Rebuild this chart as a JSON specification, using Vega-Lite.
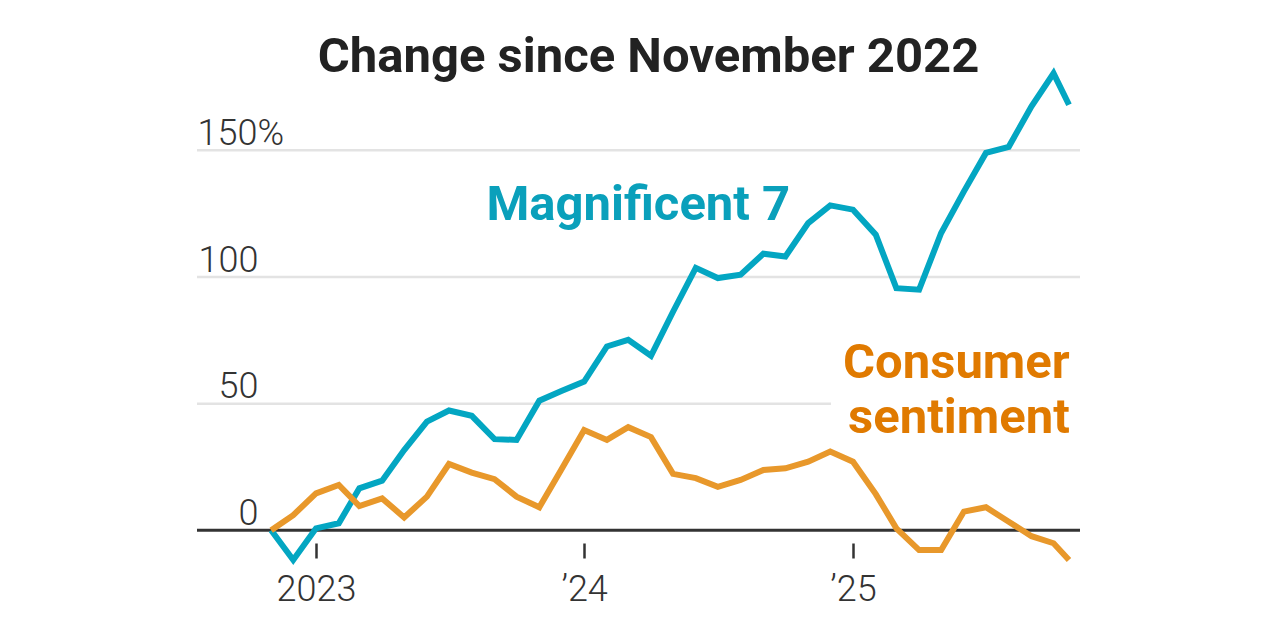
{
  "$schema": "https://vega.github.io/schema/vega-lite/v6.json",
  "width": 883,
  "height": 481.3,
  "autosize": {"type": "none"},
  "padding": {"left": 197, "top": 61.7, "right": 200, "bottom": 97},
  "background": "white",
  "config": {"view": {"stroke": null}, "font": "Roboto"},
  "title": {
    "text": "Change since November 2022",
    "anchor": "middle",
    "frame": "group",
    "font": "Roboto",
    "fontSize": 49,
    "fontWeight": "bold",
    "color": "#222222",
    "baseline": "alphabetic",
    "offset": 0,
    "dy": 60,
    "dx": 10
  },
  "datasets": {
    "grid": [
      {"gv": 50, "gs": "2022-07-23T00:00", "ge": "2024-12-02T00:00"},
      {"gv": 100, "gs": "2022-07-23T00:00", "ge": "2025-11-06T00:00"},
      {"gv": 150, "gs": "2022-07-23T00:00", "ge": "2025-11-06T00:00"}
    ],
    "series": [
      {"date": "2022-11-01T00:00", "series": "Magnificent 7", "value": 0},
      {"date": "2022-12-01T00:00", "series": "Magnificent 7", "value": -11.7},
      {"date": "2023-01-01T00:00", "series": "Magnificent 7", "value": 0.8},
      {"date": "2023-02-01T00:00", "series": "Magnificent 7", "value": 2.8},
      {"date": "2023-03-01T00:00", "series": "Magnificent 7", "value": 16.6},
      {"date": "2023-04-01T00:00", "series": "Magnificent 7", "value": 19.6},
      {"date": "2023-05-01T00:00", "series": "Magnificent 7", "value": 31.7},
      {"date": "2023-06-01T00:00", "series": "Magnificent 7", "value": 42.9},
      {"date": "2023-07-01T00:00", "series": "Magnificent 7", "value": 47.3},
      {"date": "2023-08-01T00:00", "series": "Magnificent 7", "value": 45.2},
      {"date": "2023-09-01T00:00", "series": "Magnificent 7", "value": 36.0},
      {"date": "2023-10-01T00:00", "series": "Magnificent 7", "value": 35.7},
      {"date": "2023-11-01T00:00", "series": "Magnificent 7", "value": 51.2},
      {"date": "2023-12-01T00:00", "series": "Magnificent 7", "value": 55.0},
      {"date": "2024-01-01T00:00", "series": "Magnificent 7", "value": 58.7},
      {"date": "2024-02-01T00:00", "series": "Magnificent 7", "value": 72.6},
      {"date": "2024-03-01T00:00", "series": "Magnificent 7", "value": 75.2},
      {"date": "2024-04-01T00:00", "series": "Magnificent 7", "value": 68.9},
      {"date": "2024-05-01T00:00", "series": "Magnificent 7", "value": 86.3},
      {"date": "2024-06-01T00:00", "series": "Magnificent 7", "value": 103.6},
      {"date": "2024-07-01T00:00", "series": "Magnificent 7", "value": 99.6},
      {"date": "2024-08-01T00:00", "series": "Magnificent 7", "value": 100.9},
      {"date": "2024-09-01T00:00", "series": "Magnificent 7", "value": 109.2},
      {"date": "2024-10-01T00:00", "series": "Magnificent 7", "value": 108.1},
      {"date": "2024-11-01T00:00", "series": "Magnificent 7", "value": 121.3},
      {"date": "2024-12-01T00:00", "series": "Magnificent 7", "value": 128.3},
      {"date": "2025-01-01T00:00", "series": "Magnificent 7", "value": 126.6},
      {"date": "2025-02-01T00:00", "series": "Magnificent 7", "value": 116.7},
      {"date": "2025-03-01T00:00", "series": "Magnificent 7", "value": 95.6},
      {"date": "2025-04-01T00:00", "series": "Magnificent 7", "value": 95.0},
      {"date": "2025-05-01T00:00", "series": "Magnificent 7", "value": 117.4},
      {"date": "2025-06-01T00:00", "series": "Magnificent 7", "value": 133.8},
      {"date": "2025-07-01T00:00", "series": "Magnificent 7", "value": 149.0},
      {"date": "2025-08-01T00:00", "series": "Magnificent 7", "value": 151.4},
      {"date": "2025-09-01T00:00", "series": "Magnificent 7", "value": 167.4},
      {"date": "2025-10-01T00:00", "series": "Magnificent 7", "value": 180.4},
      {"date": "2025-10-22T00:00", "series": "Magnificent 7", "value": 168.0},
      {"date": "2022-11-01T00:00", "series": "Consumer sentiment", "value": 0},
      {"date": "2022-12-01T00:00", "series": "Consumer sentiment", "value": 6.0},
      {"date": "2023-01-01T00:00", "series": "Consumer sentiment", "value": 14.6},
      {"date": "2023-02-01T00:00", "series": "Consumer sentiment", "value": 17.9},
      {"date": "2023-03-01T00:00", "series": "Consumer sentiment", "value": 9.6},
      {"date": "2023-04-01T00:00", "series": "Consumer sentiment", "value": 12.6},
      {"date": "2023-05-01T00:00", "series": "Consumer sentiment", "value": 5.1},
      {"date": "2023-06-01T00:00", "series": "Consumer sentiment", "value": 13.3},
      {"date": "2023-07-01T00:00", "series": "Consumer sentiment", "value": 26.2},
      {"date": "2023-08-01T00:00", "series": "Consumer sentiment", "value": 22.8},
      {"date": "2023-09-01T00:00", "series": "Consumer sentiment", "value": 20.2},
      {"date": "2023-10-01T00:00", "series": "Consumer sentiment", "value": 13.3},
      {"date": "2023-11-01T00:00", "series": "Consumer sentiment", "value": 9.1},
      {"date": "2023-12-01T00:00", "series": "Consumer sentiment", "value": 24.0},
      {"date": "2024-01-01T00:00", "series": "Consumer sentiment", "value": 39.6},
      {"date": "2024-02-01T00:00", "series": "Consumer sentiment", "value": 35.7},
      {"date": "2024-03-01T00:00", "series": "Consumer sentiment", "value": 40.7},
      {"date": "2024-04-01T00:00", "series": "Consumer sentiment", "value": 36.8},
      {"date": "2024-05-01T00:00", "series": "Consumer sentiment", "value": 22.3},
      {"date": "2024-06-01T00:00", "series": "Consumer sentiment", "value": 20.6},
      {"date": "2024-07-01T00:00", "series": "Consumer sentiment", "value": 17.2},
      {"date": "2024-08-01T00:00", "series": "Consumer sentiment", "value": 19.9},
      {"date": "2024-09-01T00:00", "series": "Consumer sentiment", "value": 23.8},
      {"date": "2024-10-01T00:00", "series": "Consumer sentiment", "value": 24.5},
      {"date": "2024-11-01T00:00", "series": "Consumer sentiment", "value": 27.1},
      {"date": "2024-12-01T00:00", "series": "Consumer sentiment", "value": 31.1},
      {"date": "2025-01-01T00:00", "series": "Consumer sentiment", "value": 27.1},
      {"date": "2025-02-01T00:00", "series": "Consumer sentiment", "value": 14.3},
      {"date": "2025-03-01T00:00", "series": "Consumer sentiment", "value": 0.8},
      {"date": "2025-04-01T00:00", "series": "Consumer sentiment", "value": -7.8},
      {"date": "2025-05-01T00:00", "series": "Consumer sentiment", "value": -7.8},
      {"date": "2025-06-01T00:00", "series": "Consumer sentiment", "value": 7.4},
      {"date": "2025-07-01T00:00", "series": "Consumer sentiment", "value": 9.1},
      {"date": "2025-08-01T00:00", "series": "Consumer sentiment", "value": 3.4},
      {"date": "2025-09-01T00:00", "series": "Consumer sentiment", "value": -2.3},
      {"date": "2025-10-01T00:00", "series": "Consumer sentiment", "value": -5.1},
      {"date": "2025-10-22T00:00", "series": "Consumer sentiment", "value": -11.7}
    ]
  },
  "layer": [
    {
      "data": {"name": "grid"},
      "mark": {"type": "rule", "color": "#e3e3e3", "strokeWidth": 2.5},
      "encoding": {
        "x": {"field": "gs", "type": "temporal"},
        "x2": {"field": "ge"},
        "y": {"field": "gv", "type": "quantitative"}
      }
    },
    {
      "data": {"values": [{"zero": 0}]},
      "mark": {"type": "rule", "color": "#333333", "strokeWidth": 3},
      "encoding": {
        "y": {"field": "zero", "type": "quantitative"}
      }
    },
    {
      "data": {"name": "series"},
      "mark": {"type": "line", "strokeWidth": 6, "strokeJoin": "miter", "strokeCap": "butt"},
      "encoding": {
        "x": {
          "field": "date",
          "type": "temporal",
          "scale": {"domain": [{"year": 2022, "month": 7, "date": 23}, {"year": 2025, "month": 11, "date": 6}]},
          "axis": {
            "title": null,
            "domain": false,
            "grid": false,
            "ticks": true,
            "tickSize": 15,
            "tickWidth": 2.5,
            "tickColor": "#333333",
            "values": [{"year": 2023, "month": 1, "date": 1}, {"year": 2024, "month": 1, "date": 1}, {"year": 2025, "month": 1, "date": 1}],
            "labelExpr": "year(datum.value) == 2023 ? '2023' : '\u2019' + slice(timeFormat(datum.value, '%Y'), 2)",
            "labelFont": "Roboto",
            "labelFontSize": 36,
            "labelFontWeight": 300,
            "labelColor": "#333333",
            "labelBaseline": "alphabetic",
            "labelPadding": 42,
            "labelFlush": false,
            "labelOverlap": false
          }
        },
        "y": {
          "field": "value",
          "type": "quantitative",
          "scale": {"domain": [-5, 185], "nice": false, "zero": false},
          "axis": {
            "title": null,
            "domain": false,
            "grid": false,
            "ticks": false,
            "tickSize": 0,
            "values": [0, 50, 100, 150],
            "labelExpr": "datum.value == 150 ? '150%' : datum.label",
            "labelFont": "Roboto",
            "labelFontSize": 36,
            "labelFontWeight": 300,
            "labelColor": "#333333",
            "labelBaseline": "alphabetic",
            "labelOffset": -6,
            "labelAlign": {"condition": {"test": "datum.value == 150", "value": "left"}, "value": "right"},
            "labelPadding": {"condition": {"test": "datum.value == 150", "value": 0}, "value": -61},
            "labelFlush": false,
            "labelOverlap": false,
            "labelBound": false
          }
        },
        "color": {
          "field": "series",
          "type": "nominal",
          "scale": {"domain": ["Magnificent 7", "Consumer sentiment"], "range": ["#03a6c2", "#e8982b"]},
          "legend": null
        }
      }
    },
    {
      "data": {"values": [{}]},
      "mark": {"type": "text", "text": "Magnificent 7", "align": "left", "baseline": "alphabetic", "font": "Roboto", "fontSize": 49, "fontWeight": "bold", "color": "#0aa0bb"},
      "encoding": {
        "x": {"datum": {"year": 2023, "month": 8, "date": 21}, "type": "temporal"},
        "y": {"datum": 122.5, "type": "quantitative"}
      }
    },
    {
      "data": {"values": [{}]},
      "mark": {"type": "text", "text": ["Consumer", "sentiment"], "lineHeight": 55, "align": "right", "baseline": "alphabetic", "font": "Roboto", "fontSize": 49, "fontWeight": "bold", "color": "#e07a00"},
      "encoding": {
        "x": {"datum": {"year": 2025, "month": 10, "date": 23}, "type": "temporal"},
        "y": {"datum": 60.2, "type": "quantitative"}
      }
    }
  ]
}
